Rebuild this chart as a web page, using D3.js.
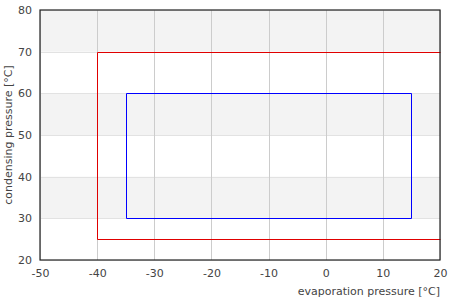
<!DOCTYPE html>
<html>
<head>
<meta charset="utf-8">
<script src="https://cdn.jsdelivr.net/npm/d3@7"></script>
<style>
  body { margin: 0; background: #fff; }
  svg { font-family: "DejaVu Sans", sans-serif; }
</style>
</head>
<body>
<div id="chart"></div>
<script>
// envelope and inner operating range, in [evaporation, condensing]
const outerX = [20, -40, -40, 20];
const outerY = [25, 25, 70, 70];
const innerX = [-35, 15, 15, -35, -35];
const innerY = [30, 30, 60, 60, 30];
const xTicks = [-50, -40, -30, -20, -10, 0, 10, 20];
const yTicks = [20, 30, 40, 50, 60, 70, 80];
const bands = [[30, 40], [50, 60], [70, 80]];

const width = 450, height = 300;
const margin = {top: 10, right: 10, bottom: 40, left: 40};

const svg = d3.select("#chart").append("svg")
    .attr("width", width)
    .attr("height", height);

const x = d3.scaleLinear().domain([-50, 20]).range([margin.left, width - margin.right]);
const y = d3.scaleLinear().domain([20, 80]).range([height - margin.bottom, margin.top]);

// alternating bands
svg.append("g").selectAll("rect").data(bands).join("rect")
    .attr("x", x(-50))
    .attr("width", x(20) - x(-50))
    .attr("y", d => y(d[1]))
    .attr("height", d => y(d[0]) - y(d[1]))
    .attr("fill", "#f3f3f3");

// grid
svg.append("g").selectAll("line").data(yTicks).join("line")
    .attr("x1", x(-50)).attr("x2", x(20))
    .attr("y1", d => Math.round(y(d)) + 0.5).attr("y2", d => Math.round(y(d)) + 0.5)
    .attr("stroke", "#e2e2e2");
svg.append("g").selectAll("line").data(xTicks).join("line")
    .attr("y1", y(20)).attr("y2", y(80))
    .attr("x1", d => Math.round(x(d)) + 0.5).attr("x2", d => Math.round(x(d)) + 0.5)
    .attr("stroke", "#cccccc");

const line = d3.line().x(d => Math.round(x(d[0])) + 0.5).y(d => Math.round(y(d[1])) + 0.5);

svg.append("path")
    .attr("d", line(outerX.map((v, i) => [v, outerY[i]])))
    .attr("fill", "none").attr("stroke", "#e00000").attr("stroke-width", 1);
svg.append("path")
    .attr("d", line(innerX.map((v, i) => [v, innerY[i]])))
    .attr("fill", "none").attr("stroke", "#0000ff").attr("stroke-width", 1);

// frame
svg.append("rect")
    .attr("x", x(-50)).attr("y", y(80))
    .attr("width", x(20) - x(-50)).attr("height", y(20) - y(80))
    .attr("fill", "none").attr("stroke", "#222").attr("stroke-width", 1.2);

// axes, plain hyphen minus like the original
const fmt = d => String(d);
const xAxis = svg.append("g")
    .attr("transform", `translate(0,${y(20)})`)
    .call(d3.axisBottom(x).tickValues(xTicks).tickFormat(fmt).tickSize(0).tickPadding(9));
const yAxis = svg.append("g")
    .attr("transform", `translate(${x(-50)},0)`)
    .call(d3.axisLeft(y).tickValues(yTicks).tickFormat(fmt).tickSize(0).tickPadding(8));
[xAxis, yAxis].forEach(a => {
  a.select(".domain").remove();
  a.selectAll("text").attr("fill", "#444").style("font-size", "11px")
    .style("font-family", "DejaVu Sans, sans-serif");
});

svg.append("text")
    .attr("x", x(20)).attr("y", 295)
    .attr("text-anchor", "end")
    .attr("fill", "#444").style("font-size", "11px")
    .text("evaporation pressure [°C]");

svg.append("text")
    .attr("transform", `translate(12,${(y(20) + y(80)) / 2}) rotate(-90)`)
    .attr("text-anchor", "middle")
    .attr("fill", "#444").style("font-size", "11px")
    .text("condensing pressure [°C]");
</script>
</body>
</html>
